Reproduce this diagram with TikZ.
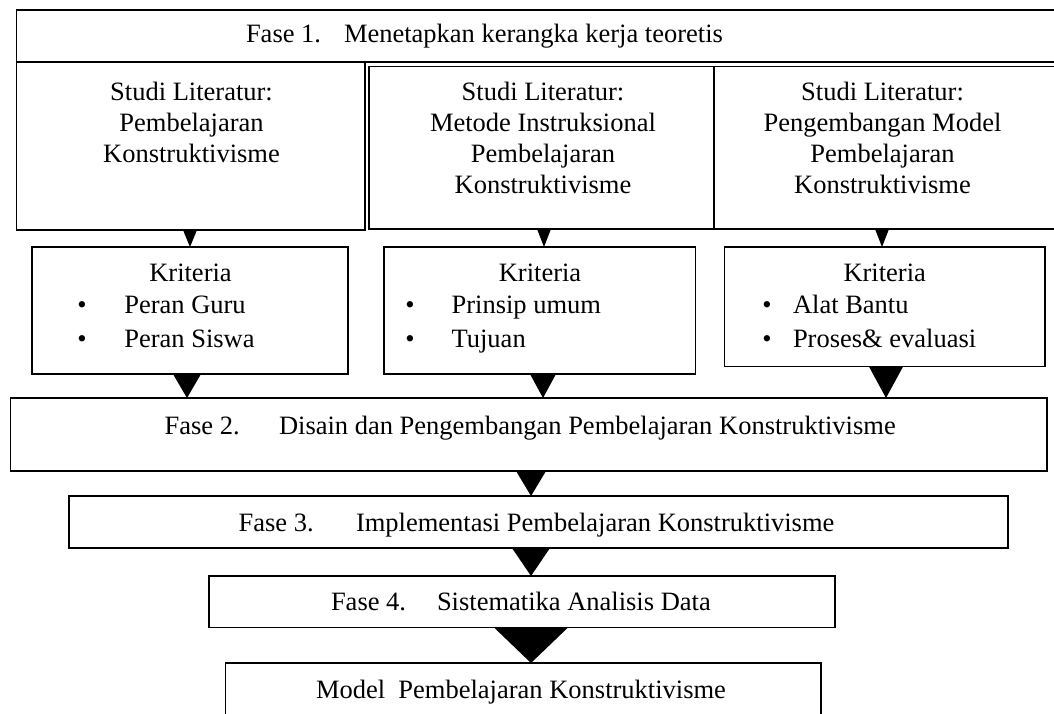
\documentclass[tikz,border=0pt]{standalone}
\usepackage{fontspec}
\setmainfont{Liberation Serif}
\usetikzlibrary{calc}
\tikzset{
  bx/.style={draw, line width=1.3pt, inner sep=0pt, outer sep=0pt, anchor=north west},
  tx/.style={inner sep=0pt, outer sep=0pt, font=\fontsize{26.5}{31}\selectfont},
  tl/.style={tx, anchor=base west},
  tc/.style={tx, anchor=base},
}
\newcommand\tri[4]{%
  \fill let \p1=(#1.south), \p2=(#2.north) in
    (#3pt-#4pt,\y1) -- (#3pt+#4pt,\y1) -- (#3pt,\y2) -- cycle;}
\begin{document}
\begin{tikzpicture}[x=1pt,y=-1pt]
\clip (0,0) rectangle (1054,713);
\fill[white] (0,0) rectangle (1054,713);
% boxes
\node[bx, minimum width=1047.5pt, minimum height=52pt, line width=1.6pt] (f1) at (16.5,10) {};
\node[bx, minimum width=348.5pt, minimum height=168pt] (a) at (16.5,62) {};
\node[bx, minimum width=345pt, minimum height=162.3pt] (b) at (369,66.7) {};
\node[bx, minimum width=350pt, minimum height=162.3pt] (c) at (714,66.7) {};
\node[bx, minimum width=316pt, minimum height=127pt] (d) at (32,247) {};
\node[bx, minimum width=311.6pt, minimum height=127pt] (e) at (384,247) {};
\node[bx, minimum width=320.5pt, minimum height=119.7pt] (f) at (724.5,247) {};
\node[bx, minimum width=1036.7pt, minimum height=73pt] (f2) at (10.3,398) {};
\node[bx, minimum width=939pt, minimum height=52pt, line width=1.7pt] (f3) at (69,496) {};
\node[bx, minimum width=626pt, minimum height=51.5pt] (f4) at (209,576) {};
\node[bx, minimum width=595.3pt, minimum height=77pt] (m) at (225.7,663) {};
% texts
\node[tl] (t1a) at (246,42) {Fase 1.};
\node[tl] (t1b) at (344,42) {Menetapkan kerangka kerja teoretis};
\node[tc] (a1) at (191.5,100) {Studi Literatur:};
\node[tc] (a2) at (191.5,131) {Pembelajaran};
\node[tc] (a3) at (191.5,162) {Konstruktivisme};
\node[tc] (b1) at (543,100) {Studi Literatur:};
\node[tc] (b2) at (543,131) {Metode Instruksional};
\node[tc] (b3) at (543,162) {Pembelajaran};
\node[tc] (b4) at (543,193) {Konstruktivisme};
\node[tc] (c1) at (882.5,100) {Studi Literatur:};
\node[tc] (c2) at (882.5,131) {Pengembangan Model};
\node[tc] (c3) at (882.5,162) {Pembelajaran};
\node[tc] (c4) at (882.5,193) {Konstruktivisme};
\node[tc] (d0) at (190.5,281.7) {Kriteria};
\node[tc] (d1b) at (82,313.5) {•};
\node[tl] (d1) at (124.3,313.5) {Peran Guru};
\node[tc] (d2b) at (82,347.3) {•};
\node[tl] (d2) at (124.3,347.3) {Peran Siswa};
\node[tc] (e0) at (540,281.7) {Kriteria};
\node[tc] (e1b) at (410,313.5) {•};
\node[tl] (e1) at (451.6,313.5) {Prinsip umum};
\node[tc] (e2b) at (410,347.3) {•};
\node[tl] (e2) at (451.6,347.3) {Tujuan};
\node[tc] (f0) at (884.7,281.7) {Kriteria};
\node[tc] (f1b) at (767,313.5) {•};
\node[tl] (ff1) at (793,313.5) {Alat Bantu};
\node[tc] (f2b) at (767,347.3) {•};
\node[tl] (ff2) at (793,347.3) {Proses\& evaluasi};
\node[tl] (t2a) at (164.6,434) {Fase 2.};
\node[tl] (t2b) at (279,434) {Disain dan Pengembangan Pembelajaran Konstruktivisme};
\node[tl] (t3a) at (238.6,531.7) {Fase 3.};
\node[tl] (t3b) at (356,531.7) {Implementasi Pembelajaran Konstruktivisme};
\node[tl] (t4a) at (331,610.7) {Fase 4.};
\node[tl] (t4b) at (437,610.7) {Sistematika Analisis Data};
\node[tl] (tm) at (316,698) {Model\ \ Pembelajaran Konstruktivisme};
% triangles (connectors)
\tri{a}{d}{190}{7}
\tri{b}{e}{544}{7}
\tri{c}{f}{882}{7}
\tri{d}{f2}{187}{14}
\tri{e}{f2}{543}{13}
\tri{f}{f2}{886}{17}
\tri{f2}{f3}{531}{15}
\tri{f3}{f4}{531}{19}
\tri{f4}{m}{531}{37}
\end{tikzpicture}
\end{document}
